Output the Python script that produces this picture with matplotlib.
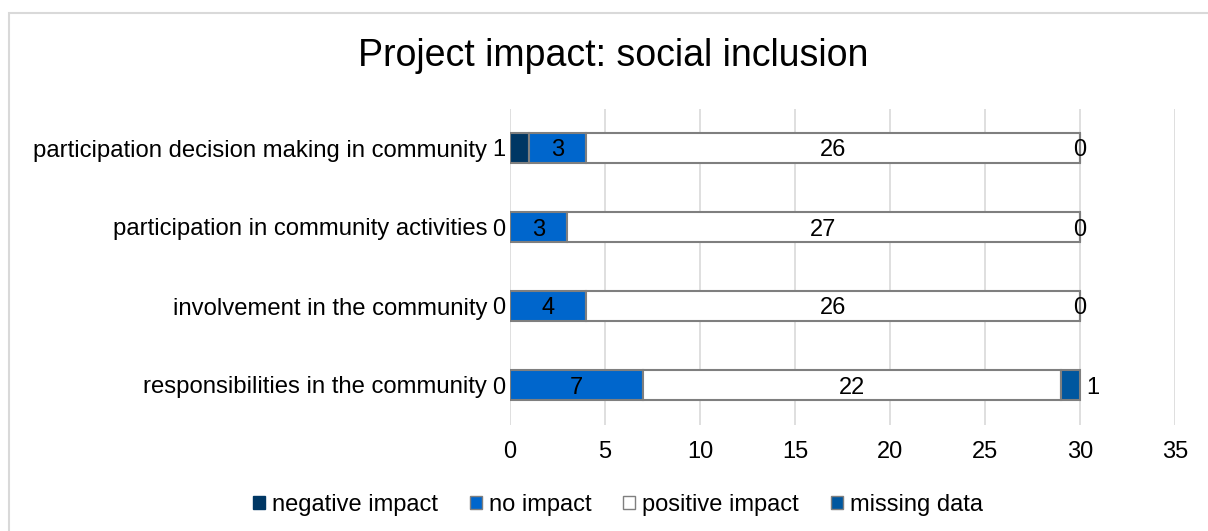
import numpy as np
import matplotlib.pyplot as plt
from matplotlib.patches import Rectangle

plt.rcParams['font.family'] = ['Liberation Sans', 'DejaVu Sans']

# rows from top to bottom
categories = ["participation decision making in community",
              "participation in community activities",
              "involvement in the community",
              "responsibilities in the community"]
negative = [1, 0, 0, 0]
no_impact = [3, 3, 4, 7]
positive = [26, 27, 26, 22]
missing = [0, 0, 0, 1]

series_names = ["negative impact", "no impact", "positive impact", "missing data"]
colors = ["#003764", "#0066cc", "#ffffff", "#00579f"]
edge = "#7f7f7f"
fs = 17

fig = plt.figure(figsize=(12.08, 5.31), dpi=100)
fig.patches.append(Rectangle((9 / 1208, -0.1), 1.2, 1 - 13 / 531 + 0.1,
                             transform=fig.transFigure, fill=False,
                             edgecolor="#d9d9d9", linewidth=1.5))
ax = fig.add_axes([510 / 1208, 1 - 424.5 / 531, 665 / 1208, 316 / 531])

y = np.arange(len(categories))
data = [negative, no_impact, positive, missing]
left = np.zeros(len(categories))
bars = []
for vals, name, col in zip(data, series_names, colors):
    vals = np.array(vals, dtype=float)
    ax.barh(y, vals, left=left, height=0.38, color=col,
            edgecolor=edge, linewidth=1.5, label=name, zorder=3)
    bars.append((vals, left.copy()))
    left += vals

lab = dict(fontsize=fs, va="center_baseline", zorder=5)
for i in range(len(categories)):
    # negative impact: outside on the left
    ax.text(-0.25, y[i], f"{negative[i]}", ha="right", **lab)
    # no impact, positive impact: centred in the segment
    for k in (1, 2):
        vals, start = bars[k]
        ax.text(start[i] + vals[i] / 2, y[i], f"{int(vals[i])}", ha="center", **lab)
    # missing data: at the end of the bar
    vals, start = bars[3]
    end = start[i] + vals[i]
    if vals[i] > 0:
        ax.text(end + 0.35, y[i], f"{int(vals[i])}", ha="left", **lab)
    else:
        ax.text(end, y[i], f"{int(vals[i])}", ha="center", **lab)

ax.set_xlim(0, 35)
ax.set_ylim(len(categories) - 0.5, -0.5)
ax.set_xticks(np.arange(0, 36, 5))
ax.set_yticks(y)
ax.set_yticklabels(categories, fontsize=17.2)
ax.tick_params(axis="both", length=0)
ax.tick_params(axis="x", labelsize=fs, pad=12)
ax.tick_params(axis="y", pad=16.5)
ax.grid(axis="x", color="#d9d9d9", linewidth=1.2, zorder=0)
for s in ax.spines.values():
    s.set_visible(False)

fig.suptitle("Project impact: social inclusion", fontsize=27, x=613 / 1208, y=1 - 56 / 531, va="center")

leg = fig.legend(loc="center", bbox_to_anchor=(618 / 1208, 1 - 505 / 531), ncol=4,
                 frameon=False, fontsize=fs, handlelength=0.5, handleheight=0.5,
                 handletextpad=0.3, columnspacing=1.35)
for h in leg.legend_handles:
    h.set_linewidth(1.0)
leg.legend_handles[0].set_edgecolor(colors[0])

fig.savefig("out.png", dpi=100)
